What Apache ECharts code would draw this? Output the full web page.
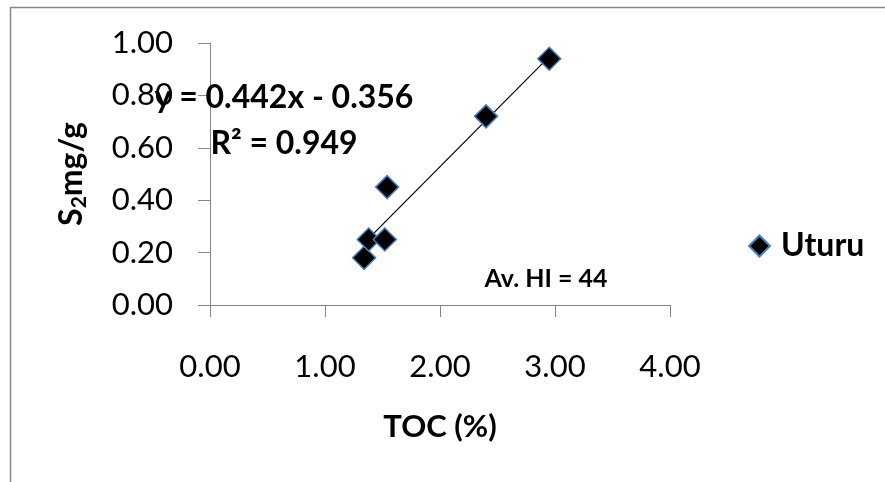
<!DOCTYPE html>
<html>
<head>
<meta charset="utf-8">
<script src="https://cdn.jsdelivr.net/npm/echarts@6/dist/echarts.min.js"></script>
<style>
html,body{margin:0;padding:0;background:#fff;}
#chart{width:885px;height:482px;}
</style>
</head>
<body>
<div id="chart"></div>
<script>
// Data
const seriesName = 'Uturu';
const tocValues = [1.34, 1.38, 1.52, 1.54, 2.40, 2.95];
const s2Values = [0.18, 0.25, 0.25, 0.45, 0.72, 0.94];
const trendX = [1.34, 2.95];
const trendY = [0.236, 0.948];
const equationLines = ['y = 0.442x - 0.356', 'R² = 0.949'];
const noteText = 'Av. HI = 44';
const xTitle = 'TOC (%)';

const points = tocValues.map((x, i) => [x, s2Values[i]]);
const trendPoints = trendX.map((x, i) => [x, trendY[i]]);

const FONT = 'Lato, "Open Sans", "Liberation Sans", sans-serif';
const axisGray = '#868686';

const chart = echarts.init(document.getElementById('chart'));
chart.setOption({
  animation: false,
  backgroundColor: '#ffffff',
  grid: { left: 210, right: 215, top: 43, bottom: 177, containLabel: false },
  xAxis: {
    type: 'value', min: 0, max: 4, interval: 1,
    splitLine: { show: false },
    axisLine: { show: true, onZero: false, lineStyle: { color: axisGray, width: 1 } },
    axisTick: { show: true, length: 12, lineStyle: { color: axisGray } },
    axisLabel: { margin: 46, color: '#000', fontFamily: FONT, fontSize: 31,
      formatter: v => v.toFixed(2) },
    name: xTitle, nameLocation: 'middle', nameGap: 106,
    nameTextStyle: { color: '#000', fontFamily: FONT, fontSize: 31, fontWeight: 'bold' }
  },
  yAxis: {
    type: 'value', min: 0, max: 1, interval: 0.2,
    splitLine: { show: false },
    axisLine: { show: true, lineStyle: { color: axisGray, width: 1 } },
    axisTick: { show: true, length: 12, lineStyle: { color: axisGray } },
    axisLabel: { margin: 37, color: '#000', fontFamily: FONT, fontSize: 31,
      formatter: v => v.toFixed(2) },
    name: '{a|S}{b|2}{a|mg/g}', nameLocation: 'middle', nameGap: 120, nameRotate: 90,
    nameTextStyle: {
      color: '#000', fontFamily: FONT, fontWeight: 'bold',
      rich: {
        a: { fontFamily: FONT, fontWeight: 'bold', fontSize: 32, color: '#000', lineHeight: 36 },
        b: { fontFamily: FONT, fontWeight: 'bold', fontSize: 21, color: '#000', lineHeight: 27, verticalAlign: 'bottom' }
      }
    }
  },
  legend: {
    data: [seriesName], left: 748, top: 230, padding: 0, icon: 'diamond',
    itemWidth: 21, itemHeight: 21, itemGap: 0,
    textStyle: { color: '#000', fontFamily: FONT, fontSize: 32, fontWeight: 'bold', padding: [0, 0, 0, 6] }
  },
  series: [
    {
      name: 'trend', type: 'line', data: trendPoints, showSymbol: false, symbol: 'none',
      lineStyle: { color: '#000', width: 1.2 }, z: 2, silent: true
    },
    {
      name: seriesName, type: 'scatter', data: points, symbol: 'diamond', symbolSize: 23,
      itemStyle: { color: '#000', borderColor: '#4a7ebb', borderWidth: 1.5, opacity: 1 }, z: 3
    }
  ],
  graphic: [
    { type: 'polyline', silent: true, shape: { points: [[10.5, 482], [10.5, 7.5], [885, 7.5]] },
      style: { stroke: '#888888', lineWidth: 1.5, fill: null } },
    { type: 'text', silent: true, x: 284, y: 121, z: 10,
      style: { text: equationLines.join('\n'), textAlign: 'center', textVerticalAlign: 'middle',
        fontFamily: FONT, fontSize: 32, fontWeight: 'bold', fill: '#000', lineHeight: 46 } },
    { type: 'text', silent: true, x: 546, y: 279, z: 10,
      style: { text: noteText, textAlign: 'center', textVerticalAlign: 'middle',
        fontFamily: FONT, fontSize: 25, fontWeight: 'bold', fill: '#000' } }
  ]
});
</script>
</body>
</html>
